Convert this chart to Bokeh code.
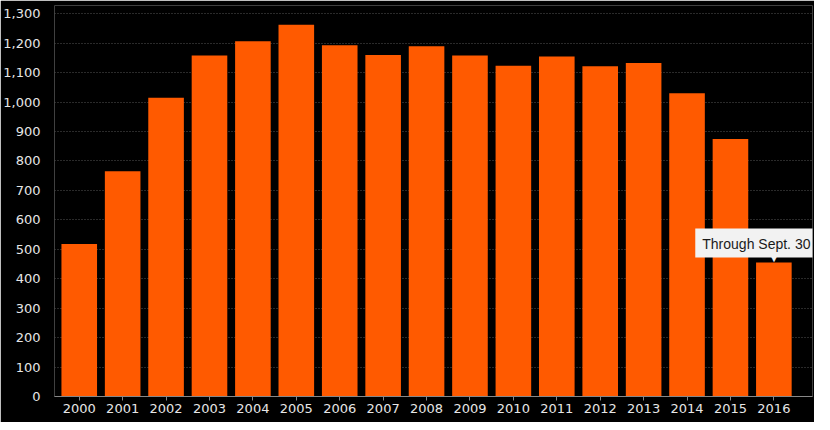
from bokeh.plotting import figure
from bokeh.models import ColumnDataSource, FixedTicker, NumeralTickFormatter, Label, Range1d
from bokeh.embed import file_html
from bokeh.resources import INLINE

years = [2000, 2001, 2002, 2003, 2004, 2005, 2006, 2007, 2008, 2009, 2010, 2011, 2012, 2013, 2014, 2015, 2016]
year_labels = [str(y) for y in years]
values = [518, 765, 1015, 1158, 1207, 1263, 1193, 1160, 1190, 1158, 1123, 1155, 1122, 1133, 1030, 875, 455]
y_ticks = list(range(0, 1301, 100))
note_text = "Through Sept. 30"

src = ColumnDataSource(dict(x=years, top=values))

p = figure(width=814, height=422, output_backend="svg", toolbar_location=None,
           x_range=Range1d(1999.43, 2016.89), y_range=Range1d(0, 1328),
           min_border_top=5, min_border_right=2, min_border_left=50, min_border_bottom=26)
p.background_fill_color = "black"
p.border_fill_color = "black"
p.outline_line_color = None

p.vbar(x="x", top="top", bottom=0, width=0.82, source=src, color="#ff5a00", line_color=None)

p.xgrid.grid_line_color = None
p.ygrid.grid_line_color = "#555555"
p.ygrid.grid_line_dash = "1 2"
p.ygrid.ticker = FixedTicker(ticks=y_ticks)

p.yaxis.ticker = FixedTicker(ticks=y_ticks)
p.yaxis.formatter = NumeralTickFormatter(format="0,0")
p.yaxis.axis_line_color = None
p.yaxis.major_tick_line_color = None
p.yaxis.minor_tick_line_color = None
p.yaxis.major_label_standoff = 8
p.yaxis.major_label_text_color = "#e6e6e6"
p.yaxis.major_label_text_font = "DejaVu Sans"
p.yaxis.major_label_text_font_size = "13px"

p.xaxis.ticker = FixedTicker(ticks=years)
p.xaxis.major_label_overrides = {y: l for y, l in zip(years, year_labels)}
p.xaxis.axis_line_color = "#888888"
p.xaxis.major_tick_line_color = "#888888"
p.xaxis.major_tick_in = 0
p.xaxis.major_tick_out = 4
p.xaxis.minor_tick_line_color = None
p.xaxis.major_label_standoff = 3
p.xaxis.major_label_text_color = "#e6e6e6"
p.xaxis.major_label_text_font = "DejaVu Sans"
p.xaxis.major_label_text_font_size = "13px"

last_x, last_v = years[-1], values[-1]
note = Label(x=last_x, y=last_v, x_offset=-18, y_offset=5, text=note_text,
             text_align="center", text_baseline="bottom",
             text_font="Liberation Sans", text_font_size="14px", text_color="#1a1a1a",
             background_fill_color="#f2f2f2", padding=(7, 6, 7, 6))
p.add_layout(note)
pointer = Label(x=last_x, y=last_v, y_offset=-1, text="\u25bc", text_align="center",
                text_baseline="bottom", text_font="DejaVu Sans", text_font_size="11px",
                text_color="#f2f2f2")
p.add_layout(pointer)

html = file_html(p, INLINE)
html = html.replace("<body>", '<body style="background:#000000">', 1)
open("out.html", "w").write(html)
